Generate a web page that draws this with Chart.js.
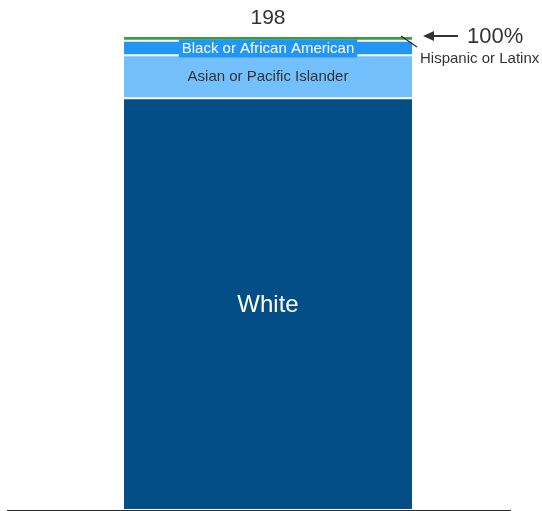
<!DOCTYPE html>
<html><head><meta charset="utf-8">
<script src="https://cdn.jsdelivr.net/npm/chart.js@4"></script>
<style>html,body{margin:0;padding:0;background:#fff}#wrap{width:542px;height:511px}</style>
</head><body><div id="wrap"><canvas id="c" width="542" height="511"></canvas></div>
<script>
const categories = ["All students"];
const seriesNames = ["White", "Asian or Pacific Islander", "Black or African American", "Hispanic or Latinx"];
const whiteVals = [172];
const asianVals = [18];
const blackVals = [6];
const hispanicVals = [2];
const totalLabel = "198";
const pctLabel = "100%";
const colors = ["#034e87", "#74c0fc", "#2196f3", "#389e3c"];
const allVals = [whiteVals, asianVals, blackVals, hispanicVals];

const FONT = "'Liberation Sans', Arial, sans-serif";

const labelPlugin = {
  id: 'labels',
  afterDatasetsDraw(chart) {
    const ctx = chart.ctx;
    const y = chart.scales.y;
    const area = chart.chartArea;
    const meta0 = chart.getDatasetMeta(0).data[0];
    const cx = meta0.x;
    const half = meta0.width / 2;
    const total = allVals.reduce((s, a) => s + a[0], 0);
    let cum = 0;
    const bounds = allVals.map(a => { const b = cum; cum += a[0]; return [y.getPixelForValue(b), y.getPixelForValue(cum)]; });
    ctx.save();
    ctx.textAlign = 'center';
    ctx.textBaseline = 'middle';
    // White
    ctx.fillStyle = '#fff';
    ctx.font = "24px " + FONT;
    ctx.fillText(seriesNames[0], cx, (bounds[0][0] + bounds[0][1]) / 2 + 1);
    // Asian
    ctx.fillStyle = '#333';
    ctx.font = "15px " + FONT;
    ctx.fillText(seriesNames[1], cx, (bounds[1][0] + bounds[1][1]) / 2);
    // Black with background box
    ctx.font = "15px " + FONT;
    const bm = (bounds[2][0] + bounds[2][1]) / 2;
    const tw = ctx.measureText(seriesNames[2]).width;
    ctx.fillStyle = colors[2];
    ctx.fillRect(cx - tw / 2 - 3, bm - 8.5, tw + 6, 18);
    ctx.fillStyle = '#fff';
    ctx.fillText(seriesNames[2], cx, bm + 0.5);
    // total
    ctx.fillStyle = '#333';
    ctx.font = "21px " + FONT;
    ctx.fillText(totalLabel, cx, y.getPixelForValue(total) - 18);
    // Hispanic leader
    const topY = y.getPixelForValue(total);
    const rx = cx + half;
    ctx.strokeStyle = '#333';
    ctx.lineWidth = 1.5;
    ctx.beginPath();
    ctx.moveTo(rx - 11, topY);
    ctx.lineTo(rx + 5, topY + 11);
    ctx.stroke();
    ctx.textAlign = 'left';
    ctx.font = "15px " + FONT;
    ctx.fillText(seriesNames[3], rx + 8, topY + 23);
    // arrow + 100%
    ctx.lineWidth = 2;
    ctx.beginPath();
    ctx.moveTo(rx + 18, topY);
    ctx.lineTo(rx + 46, topY);
    ctx.stroke();
    ctx.fillStyle = '#333';
    ctx.beginPath();
    ctx.moveTo(rx + 11, topY);
    ctx.lineTo(rx + 22, topY - 5);
    ctx.lineTo(rx + 22, topY + 5);
    ctx.closePath();
    ctx.fill();
    ctx.font = "22px " + FONT;
    ctx.fillText(pctLabel, rx + 55, topY + 1);
    // axis line
    ctx.strokeStyle = '#2a2a2a';
    ctx.lineWidth = 2;
    ctx.beginPath();
    ctx.moveTo(area.left, area.bottom + 1);
    ctx.lineTo(area.right - 18, area.bottom + 1);
    ctx.stroke();
    ctx.restore();
  }
};

new Chart(document.getElementById('c'), {
  type: 'bar',
  data: {
    labels: categories,
    datasets: seriesNames.map((n, i) => ({
      label: n,
      data: allVals[i],
      backgroundColor: colors[i],
      borderColor: '#ffffff',
      borderWidth: {top: 1, bottom: 1, left: 0, right: 0},
      borderSkipped: false,
      categoryPercentage: 1,
      barPercentage: 0.5517
    }))
  },
  options: {
    responsive: false,
    animation: false,
    maintainAspectRatio: false,
    layout: {padding: {left: 7, right: 13, top: 36, bottom: 1}},
    plugins: {legend: {display: false}, tooltip: {enabled: false}},
    scales: {
      x: {display: false, stacked: true},
      y: {display: false, stacked: true, min: 0, max: 198}
    }
  },
  plugins: [labelPlugin]
});
</script>
</body></html>
